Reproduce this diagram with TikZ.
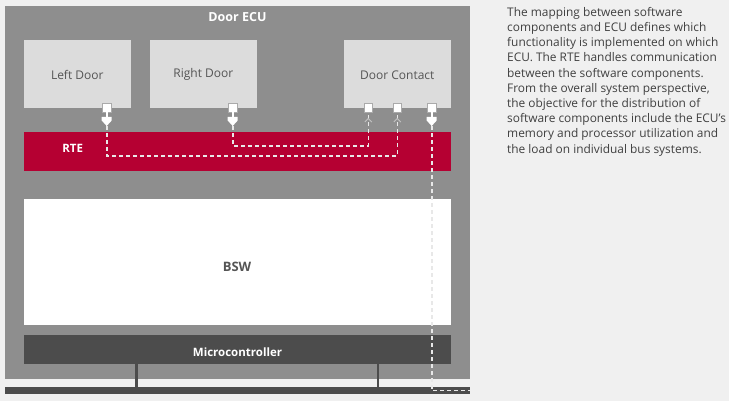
\documentclass[tikz,border=0pt]{standalone}
\usepackage{fontspec}
\setmainfont{Open Sans}
\usetikzlibrary{positioning,calc}
\definecolor{pagebg}{RGB}{240,240,240}
\definecolor{ecugray}{RGB}{142,142,142}
\definecolor{swcgray}{RGB}{220,220,220}
\definecolor{rtered}{RGB}{181,0,50}
\definecolor{darkgray}{RGB}{76,76,76}
\definecolor{labelgray}{RGB}{85,85,85}
\definecolor{wiregray}{RGB}{232,232,232}
\definecolor{portgray}{RGB}{170,170,170}
\definecolor{textgray}{RGB}{64,64,64}

\tikzset{
  layer/.style={draw=none,inner sep=0pt,outer sep=0pt},
  tag/.style={inner sep=0pt,font=\bfseries\fontsize{11.5}{13}\selectfont},
  swc/.style={layer,fill=swcgray,text=labelgray,minimum width=106.7pt,minimum height=67.7pt,
    text height=11pt,font=\fontsize{12}{14}\selectfont},
  port/.style={draw=portgray,fill=white,line width=0.8pt,minimum size=8.5pt,inner sep=0pt,outer sep=0pt},
  wire/.style={draw=wiregray,line width=1.6pt,dash pattern=on 4pt off 3pt},
  buslink/.style={draw=darkgray,line width=2.6pt},
  outtip/.pic={\fill[white] (-5,-4.5) -- (5,-4.5) -- (5,-1) -- (0,4.5) -- (-5,-1) -- cycle;},
  intip/.pic={\draw[portgray!70,line width=0.8pt] (-3.5,2) -- (0,-1.5) -- (3.5,2);}
}

\begin{document}
\begin{tikzpicture}[x=1pt,y=-1pt,line cap=butt]
 \fill[pagebg] (0,0) rectangle (729,401);
 \useasboundingbox (0,0) rectangle (729,401);
 % ECU frame
 \fill[ecugray] (5,6) rectangle (470,379);
 \node[tag,text=white,font=\bfseries\fontsize{12.5}{14}\selectfont] (ecu) at (237.5,17) {Door ECU};
 % software components
 \node[swc] (leftdoor) at (77.3,73.8) {Left Door};
 \node[swc] (rightdoor) at (203.3,73.8) {Right Door};
 \node[swc] (contact) at (397.3,73.8) {Door Contact};
 % RTE, BSW, microcontroller
 \node[layer,fill=rtered,minimum width=427pt,minimum height=39pt] (rte) at (237.5,151.2) {};
 \node[tag,text=white] (rtelabel) at (72.7,148) {RTE};
 \node[layer,fill=white,minimum width=427pt,minimum height=126pt] (bsw) at (237.5,262) {};
 \node[tag,text=labelgray,font=\bfseries\fontsize{13}{15}\selectfont] (bswlabel) at (237,267) {BSW};
 \node[layer,fill=darkgray,minimum width=427pt,minimum height=29pt] (mcu) at (237.5,349.5) {};
 \node[tag,text=white] (mculabel) at (237.5,352) {Microcontroller};
 % bus
 \node[layer,fill=darkgray,minimum width=465pt,minimum height=7.5pt] (bus) at (237.5,390.5) {};
 \coordinate (linkA) at (136.3,0);
 \coordinate (linkB) at (378,0);
 \draw[buslink] (mcu.south -| linkA) -- (bus.north -| linkA);
 \draw[buslink] (mcu.south -| linkB) -- (bus.north -| linkB);
 % ports
 \node[port] (ldport) at (106.7,108) {};
 \node[port] (rdport) at (232.7,108) {};
 \node[port] (dcin1) at (368.3,108) {};
 \node[port] (dcin2) at (397.3,108) {};
 \node[port] (dcout) at (431.7,108) {};
 % connections
 \draw[wire] (ldport.south) -- ++(0,43.5) -| (dcin2.south);
 \draw[wire] (rdport.south) -- ++(0,33.5) -| (dcin1.south);
 \draw[wire] (dcout.south) -- (dcout.south |- bus.center) -- (bus.east);
 \foreach \p in {ldport,rdport,dcout}{
   \draw[white,line width=1.6pt] (\p.south) -- ++(0,5);
   \pic at ($(\p.center)+(0,13.5)$) {outtip};
 }
 \foreach \p in {dcin1,dcin2}
   \pic at ($(\p.center)+(0,12)$) {intip};
 % description
 \node[anchor=north west,inner sep=0pt,align=left,text=textgray,
   font=\fontsize{11.9}{15.2}\selectfont] (desc) at (507,7) {%
  The mapping between software\\
  components and ECU defines which\\
  functionality is implemented on which\\
  ECU. The RTE handles communication\\
  between the software components.\\
  From the overall system perspective,\\
  the objective for the distribution of\\
  software components include the ECU's\\
  memory and processor utilization and\\
  the load on individual bus systems.};
\end{tikzpicture}
\end{document}
